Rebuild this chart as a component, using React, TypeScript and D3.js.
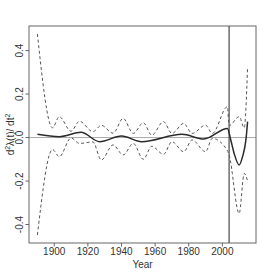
import * as d3 from 'd3'

// dashed confidence bands, sampled at the zigzag turning points
const bandYears = [
  1890, 1899, 1903, 1910, 1915, 1923, 1928, 1935, 1941, 1947, 1953, 1958, 1965, 1970, 1977,
  1982, 1990, 1994, 2003, 2004, 2010, 2013, 2015,
]
const upper = [
  0.476, 0.045, 0.096, 0.029, 0.075, 0.027, 0.056, 0.02, 0.088, 0.019, 0.068, 0.011, 0.073,
  0.019, 0.065, 0.019, 0.057, 0.019, 0.142, 0.055, 0.096, 0.045, 0.326,
]
const lower = [
  -0.448, -0.055, -0.088, -0.002, -0.027, -0.02, -0.103, -0.034, -0.08, -0.027, -0.1, -0.04,
  -0.077, -0.019, -0.065, -0.011, -0.065, -0.004, -0.06, -0.08, -0.349, -0.165, -0.2,
]

// solid estimate
const meanYears = [1890, 1903, 1916, 1927, 1940, 1952, 1976, 1989, 2003, 2005, 2007, 2010, 2012, 2014, 2015]
const mean = [0.015, 0.004, 0.024, -0.019, 0.007, -0.019, 0.015, -0.007, 0.042, -0.011, -0.073, -0.126, -0.088, -0.011, 0.073]

const changeYear = 2004
const xTicks = [1900, 1920, 1940, 1960, 1980, 2000]
const yTicks = [-0.4, -0.2, 0.0, 0.2, 0.4]

type Pt = [number, number]

export default function App() {
  const width = 266
  const height = 277
  const box = { left: 29, right: 256, top: 26, bottom: 243 }

  // R style axis limits: data range padded by 4%
  const pad = (ext: [number, number]) => {
    const d = (ext[1] - ext[0]) * 0.04
    return [ext[0] - d, ext[1] + d]
  }
  const xDomain = pad(d3.extent(bandYears) as [number, number])
  const yDomain = pad([d3.min(lower)!, d3.max(upper)!])
  const x = d3.scaleLinear().domain(xDomain).range([box.left, box.right])
  const y = d3.scaleLinear().domain(yDomain).range([box.bottom, box.top])

  const line = d3
    .line<Pt>()
    .x((d) => x(d[0]))
    .y((d) => y(d[1]))
  const smooth = line.curve(d3.curveMonotoneX)

  const upPts: Pt[] = bandYears.map((yr, i) => [yr, upper[i]])
  const loPts: Pt[] = bandYears.map((yr, i) => [yr, lower[i]])
  const meanPts: Pt[] = meanYears.map((yr, i) => [yr, mean[i]])

  const font = '"Liberation Sans Narrow", "Arial Narrow", "Liberation Sans", Arial, sans-serif'

  return (
    <svg
      width={width}
      height={height}
      style={{ position: 'absolute', left: 0, top: 0, background: '#fff' }}
      fontFamily={font}
      fontSize={10}
    >
      {/* reference lines */}
      <line x1={box.left} x2={box.right} y1={y(0)} y2={y(0)} stroke="#aaa" strokeWidth={1} />
      <line
        x1={x(changeYear)}
        x2={x(changeYear)}
        y1={box.top}
        y2={box.bottom}
        stroke="#555"
        strokeWidth={1.3}
      />

      <g fill="none" stroke="#555" strokeWidth={1} strokeDasharray="3,2.5">
        <path d={line(upPts)!} />
        <path d={line(loPts)!} />
      </g>
      <path d={smooth(meanPts)!} fill="none" stroke="#2a2a2a" strokeWidth={1.5} />

      <rect
        x={box.left}
        y={box.top}
        width={box.right - box.left}
        height={box.bottom - box.top}
        fill="none"
        stroke="#666"
      />

      <g className="x axis" fill="#333" textAnchor="middle">
        {xTicks.map((t) => (
          <g key={t} transform={`translate(${x(t)},${box.bottom})`}>
            <line y2={3.5} stroke="#666" />
            <text y={12}>{t}</text>
          </g>
        ))}
        <text x={(box.left + box.right) / 2} y={268}>
          Year
        </text>
      </g>

      <g className="y axis" fill="#333" textAnchor="middle">
        {yTicks.map((t) => (
          <g key={t} transform={`translate(${box.left},${y(t)})`}>
            <line x2={-3.5} stroke="#666" />
            <text transform="translate(-6,0) rotate(-90)">{t.toFixed(1)}</text>
          </g>
        ))}
        <text transform={`translate(14,${(box.top + box.bottom) / 2}) rotate(-90)`}>
          d<tspan fontSize={7} dy={-4}>2</tspan>
          <tspan dy={4}>λ(t)/ dt</tspan>
          <tspan fontSize={7} dy={-4}>2</tspan>
        </text>
      </g>
    </svg>
  )
}
